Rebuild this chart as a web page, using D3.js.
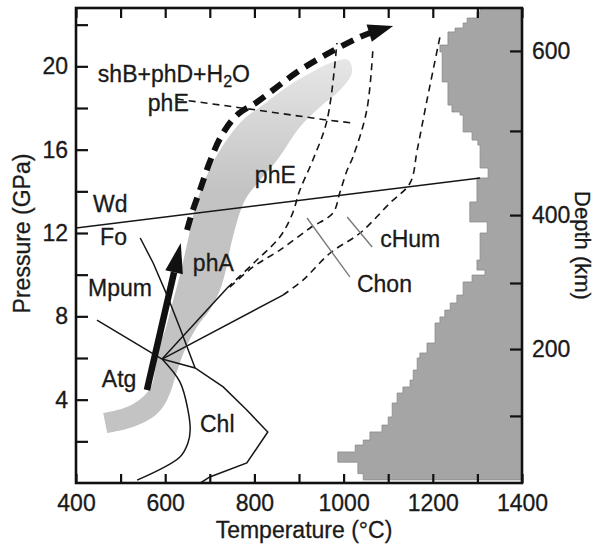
<!DOCTYPE html>
<html lang="en">
<head>
<meta charset="UTF-8">
<title>Atg phase diagram</title>
<script src="https://d3js.org/d3.v7.min.js"></script>
<style>
  body { margin: 0; background: #fff; }
  svg { font-family: 'Liberation Sans', Arial, Helvetica, sans-serif; }
  .thin { fill: none; stroke: #161616; stroke-width: 1.5px; }
  .dash { fill: none; stroke: #161616; stroke-width: 1.6px; stroke-dasharray: 7 5; }
  .tie { fill: none; stroke: #7a7a7a; stroke-width: 1.4px; }
  .tick line { stroke: #111; stroke-width: 2.2px; }
  .tick text { font-size: 23px; fill: #1a1a1a; stroke: #1a1a1a; stroke-width: 0.3px; }
  .lbl { font-size: 23px; fill: #1a1a1a; stroke: #1a1a1a; stroke-width: 0.3px; }
</style>
</head>
<body>
<svg></svg>
<script>
// axes
const tempTicks = d3.range(400, 1401, 100);
const pressTicks = d3.range(2, 23, 2);
const depthKm = [100, 200, 300, 400, 500, 600];
const depthGPa = [3.22, 6.43, 9.6, 12.86, 16.9, 20.74];

// grey temperature profile (step edge, T at each step, P where the step ends)
const geoBaseP = 0.15;
const geoT = [1044, 1032, 987, 1026, 1044, 1059, 1086, 1100, 1109, 1120, 1133, 1149, 1156, 1165, 1171, 1187, 1205, 1216, 1227, 1239, 1254, 1268, 1288, 1317, 1299, 1306, 1322, 1283, 1299, 1324, 1306, 1301, 1288, 1268, 1261, 1243, 1234, 1221, 1216, 1234, 1250, 1268, 1277, 1299, 1306];
const geoP = [0.45, 1.0, 1.49, 1.82, 2.06, 2.45, 2.78, 3.17, 3.84, 4.32, 4.61, 4.94, 5.42, 6.0, 6.24, 6.72, 7.68, 7.97, 8.3, 8.64, 9.02, 9.65, 9.98, 10.22, 10.7, 12.0, 12.53, 13.49, 14.64, 15.12, 16.22, 16.46, 16.85, 17.66, 17.81, 18.14, 19.25, 20.69, 21.02, 21.65, 21.84, 22.08, 22.32, 22.61, 22.8];

// light grey band
const bandUpper = [[461,3.36],[514,3.65],[550,4.13],[570,4.7],[579,5.66],[588,6.62],[600,7.34],[615,8.54],[633,9.98],[651,11.66],[669,13.34],[689,14.54],[723,15.98],[774,17.42],[813,18.05],[873,19.01],[925,19.68],[970,20.16],[1010,20.3]];
const bandLower = [[470,2.4],[528,2.69],[573,3.17],[595,3.65],[611,4.32],[626,5.33],[644,6.38],[671,7.49],[700,8.3],[723,9.26],[736,10.22],[750,11.66],[779,13.58],[813,14.54],[851,15.5],[902,17.09],[947,18.05],[992,18.86],[1019,19.73]];

// thick paths
const slabPath = [[649,12.14],[660,12.96],[678,14.06],[700,15.41],[727,16.7],[761,17.66],[806,18.29],[851,19.01],[896,19.73],[947,20.4],[992,20.93],[1037,21.41],[1059,21.6]];
const slabTip = [1111, 21.94];
const atgArrow = [[559,4.46],[635,11.52]];

// thin solid boundaries
const wd = [[400,12.24],[1306,14.64]];
const fo = [[544,11.76],[573,10.56],[604,9.02],[633,7.44],[667,5.52]];
const mpum = [[447,7.82],[593,5.95]];
const chlOuter = [[593,5.95],[667,5.52],[730,4.61],[783,3.5],[830,2.45],[783,0.96],[700,0.29],[679,0]];
const chlInner = [[593,5.95],[633,4.85],[651,3.5],[656,2.54],[651,1.92],[633,1.25],[537,0.14]];
const solidA = [[593,5.95],[739,9.36]];
const solidB = [[593,5.95],[864,9.02]];

// dashed boundaries
const dashA = [[739,9.36],[801,10.61],[857,11.81],[884,12.86],[902,14.06],[931,15.5],[963,17.42],[985,21.12]];
const dashB = [[745,9.4],[797,10.37],[857,11.18],[925,12.24],[976,12.96],[992,13.97],[1008,15.02],[1021,15.65],[1052,17.9],[1066,20.93]];
const dashC = [[864,9.02],[909,9.74],[970,11.04],[1037,12.0],[1104,13.44],[1149,14.4],[1165,15.98],[1187,18.38],[1216,21.41]];
const phEline = [[626,18.43],[806,17.9],[963,17.42],[1021,17.28]];

// grey tie lines
const chon = [[918,12.72],[1014,9.89]];
const chum = [[1008,12.77],[1064,11.33]];

// labels
const labelText = ['shB+phD+H_2O', 'phE', 'phE', 'Wd', 'Fo', 'phA', 'Mpum', 'Atg', 'Chl', 'cHum', 'Chon'];
const labelT = [449, 561, 801, 438, 454, 662, 427, 458, 678, 1082, 1030];
const labelP = [19.01, 17.62, 14.16, 12.77, 11.18, 9.94, 8.74, 4.37, 2.21, 11.09, 8.93];

const margin = { top: 8, right: 72, bottom: 63, left: 76 };
const W = 594, H = 546;
const width = W - margin.left - margin.right;
const height = H - margin.top - margin.bottom;

const svg = d3.select('svg').attr('width', W).attr('height', H);
const g = svg.append('g').attr('transform', `translate(${margin.left},${margin.top})`);

const x = d3.scaleLinear().domain([400, 1400]).range([0, width]);
const y = d3.scaleLinear().domain([0, 22.8]).range([height, 0]);

const line = d3.line().x(d => x(d[0])).y(d => y(d[1]));
const smooth = d3.line().x(d => x(d[0])).y(d => y(d[1])).curve(d3.curveCatmullRom);

const defs = svg.append('defs');
const grad = defs.append('linearGradient').attr('id', 'fade')
  .attr('gradientUnits', 'userSpaceOnUse')
  .attr('x1', 0).attr('x2', 0).attr('y1', y(14)).attr('y2', y(20.6));
grad.append('stop').attr('offset', 0).attr('stop-color', '#c3c3c3');
grad.append('stop').attr('offset', 1).attr('stop-color', '#e8e8e8');
defs.append('clipPath').attr('id', 'frame').append('rect').attr('width', width).attr('height', height);

const plot = g.append('g').attr('clip-path', 'url(#frame)');

// step profile
const geoPts = [[1400, geoBaseP], [geoT[0], geoBaseP]];
geoT.forEach((t, i) => {
  geoPts.push([t, i === 0 ? geoBaseP : geoP[i - 1]]);
  geoPts.push([t, geoP[i]]);
});
geoPts.push([1400, 22.8]);
plot.append('path').attr('d', line(geoPts) + 'Z')
  .attr('fill', '#a5a5a5').attr('stroke', '#8a8a8a').attr('stroke-width', 0.8);

// band
plot.append('path')
  .attr('d', smooth(bandUpper.concat(bandLower.slice().reverse())) + 'Z')
  .attr('fill', 'url(#fade)');

// thin lines
[wd, fo, mpum, chlOuter, solidA, solidB].forEach(l => plot.append('path').attr('class', 'thin').attr('d', line(l)));
plot.append('path').attr('class', 'thin').attr('d', smooth(chlInner));
[dashA, dashB, dashC].forEach(l => plot.append('path').attr('class', 'dash').attr('d', smooth(l)));
plot.append('path').attr('class', 'dash').attr('d', line(phEline));
[chon, chum].forEach(l => plot.append('path').attr('class', 'tie').attr('d', line(l)));

function head(from, tip, len, half) {
  const p0 = [x(from[0]), y(from[1])], p1 = [x(tip[0]), y(tip[1])];
  const dx = p1[0] - p0[0], dy = p1[1] - p0[1], L = Math.hypot(dx, dy);
  const ux = dx / L, uy = dy / L;
  const bx = p1[0] - ux * len, by = p1[1] - uy * len;
  return { pts: [p1, [bx - uy * half, by + ux * half], [bx + uy * half, by - ux * half]], base: [bx, by] };
}

// thick dashed slab path with arrowhead
plot.append('path').attr('d', smooth(slabPath))
  .attr('fill', 'none').attr('stroke', '#111').attr('stroke-width', 6)
  .attr('stroke-dasharray', '13 8');
const h1 = head(slabPath[slabPath.length - 1], slabTip, 25, 9);
plot.append('polygon').attr('points', h1.pts.join(' ')).attr('fill', '#111');

// solid Atg arrow
const h2 = head(atgArrow[0], atgArrow[1], 30, 9);
plot.append('line')
  .attr('x1', x(atgArrow[0][0])).attr('y1', y(atgArrow[0][1]))
  .attr('x2', h2.base[0]).attr('y2', h2.base[1])
  .attr('stroke', '#111').attr('stroke-width', 6.5);
plot.append('polygon').attr('points', h2.pts.join(' ')).attr('fill', '#111');

// labels
labelText.forEach((s, i) => {
  const t = g.append('text').attr('class', 'lbl').attr('x', x(labelT[i])).attr('y', y(labelP[i]));
  s.split(/(_\d)/).forEach(part => {
    if (part.startsWith('_')) {
      t.append('tspan').attr('font-size', '16px').attr('dy', 5).text(part.slice(1));
    } else if (part) {
      t.append('tspan').attr('dy', t.selectAll('tspan').size() ? -5 : 0).text(part);
    }
  });
});

// axes (ticks inward)
const axB = g.append('g').attr('transform', `translate(0,${height})`)
  .call(d3.axisBottom(x).tickValues(tempTicks).tickSize(-9).tickPadding(12)
    .tickFormat(d => d % 200 === 0 ? d : ''));
const axT = g.append('g')
  .call(d3.axisTop(x).tickValues(tempTicks).tickSize(-10).tickFormat(''));
const axL = g.append('g')
  .call(d3.axisLeft(y).tickValues(pressTicks).tickSize(-12).tickPadding(8)
    .tickFormat(d => d % 4 === 0 ? d : ''));
const axR = g.append('g').attr('transform', `translate(${width},0)`)
  .call(d3.axisRight(y).tickValues(depthGPa).tickSize(-12).tickPadding(10)
    .tickFormat((d, i) => depthKm[i] % 200 === 0 ? depthKm[i] : ''));
[axB, axT, axL, axR].forEach(a => a.select('.domain').remove());
axB.selectAll('text').attr('dy', '0.71em');

g.append('rect').attr('width', width).attr('height', height)
  .attr('fill', 'none').attr('stroke', '#111').attr('stroke-width', 2.6);

// axis titles
svg.append('text').attr('class', 'lbl').attr('text-anchor', 'middle')
  .attr('x', 304).attr('y', H - 8).text('Temperature (°C)');
svg.append('text').attr('class', 'lbl').attr('text-anchor', 'middle')
  .attr('transform', `translate(30,${margin.top + height / 2 - 12}) rotate(-90)`)
  .text('Pressure (GPa)');
svg.append('text').attr('class', 'lbl').attr('text-anchor', 'middle')
  .style('font-size', '22px')
  .attr('transform', `translate(575,${margin.top + height / 2}) rotate(90)`)
  .text('Depth (km)');
</script>
</body>
</html>
